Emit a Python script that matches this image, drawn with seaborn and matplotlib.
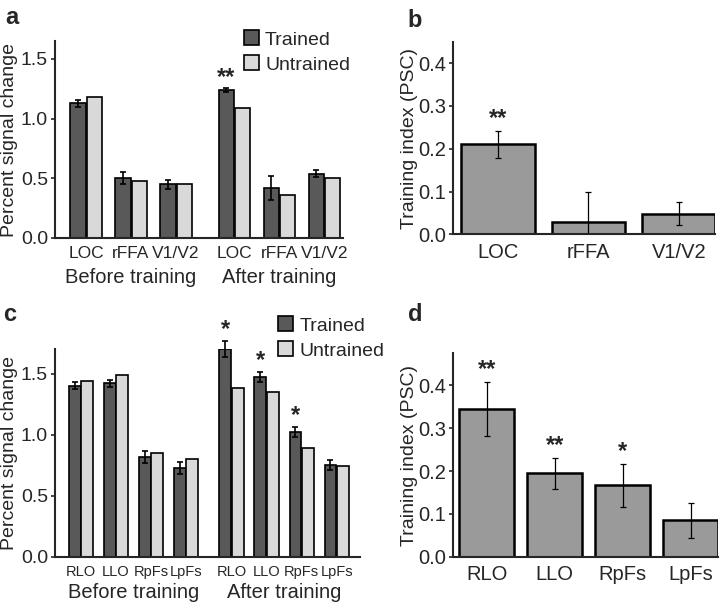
import matplotlib
matplotlib.use("Agg")
import matplotlib.pyplot as plt
import numpy as np
import pandas as pd
import seaborn as sns
from matplotlib.patches import Patch

sns.set_style("ticks")
plt.rcParams["font.family"] = ["Liberation Sans", "DejaVu Sans"]

# ---- data ----
# panel a
regions_a = ["LOC", "rFFA", "V1/V2"]
a_before_trained = [1.13, 0.50, 0.45]
a_before_trained_err = [0.03, 0.05, 0.04]
a_before_untrained = [1.18, 0.48, 0.45]
a_after_trained = [1.24, 0.42, 0.54]
a_after_trained_err = [0.02, 0.10, 0.03]
a_after_untrained = [1.09, 0.36, 0.50]
a_stars = ["", "", "", "**", "", ""]

# panel b
b_index = [0.21, 0.03, 0.048]
b_err = [0.032, 0.068, 0.027]
b_stars = ["**", "", ""]

# panel c
regions_c = ["RLO", "LLO", "RpFs", "LpFs"]
c_before_trained = [1.40, 1.42, 0.82, 0.73]
c_before_trained_err = [0.03, 0.03, 0.05, 0.05]
c_before_untrained = [1.44, 1.49, 0.85, 0.80]
c_after_trained = [1.70, 1.47, 1.02, 0.75]
c_after_trained_err = [0.065, 0.04, 0.04, 0.04]
c_after_untrained = [1.38, 1.35, 0.89, 0.74]
c_stars = ["", "", "", "", "*", "*", "*", ""]

# panel d
d_index = [0.345, 0.195, 0.167, 0.085]
d_err = [0.063, 0.036, 0.05, 0.04]
d_stars = ["**", "**", "*", ""]

DARK = "#595959"
LIGHT = "#d9d9d9"
MID = "#9a9a9a"
GROUP_GAP = 0.3


def grouped_frame(regions, bt, bu, at, au, bt_err, at_err):
    n = len(regions)
    pos = list(np.arange(n)) + list(np.arange(n) + n + GROUP_GAP)
    pos = [round(p, 3) for p in pos]
    rows = []
    for cond, vals in [("Trained", bt + at), ("Untrained", bu + au)]:
        for i, v in enumerate(vals):
            rows.append({"pos": pos[i], "value": v, "condition": cond})
    df = pd.DataFrame(rows)
    err = bt_err + at_err
    return df, pos, err


def draw_grouped(ax, regions, df, pos, err, stars, ylim, yticks, tick_fs,
                 legend_anchor, label_x, star_pad, group_y):
    sns.barplot(data=df, x="pos", y="value", hue="condition",
                native_scale=True, width=0.72, gap=0.06,
                palette=[DARK, LIGHT], edgecolor="black", linewidth=1.2,
                errorbar=None, legend=False, ax=ax)
    trained_bars = ax.containers[0]
    for bar, e, s in zip(trained_bars, err, stars):
        cx = bar.get_x() + bar.get_width() / 2
        h = bar.get_height()
        ax.errorbar(cx, h, yerr=e, color="black", capsize=2.5,
                    elinewidth=1.2, capthick=1.2, clip_on=False)
        if s:
            ax.text(cx, h + e + star_pad, s, ha="center", va="bottom",
                    fontsize=17, fontweight="bold")
    ax.set_ylim(*ylim)
    ax.set_yticks(yticks)
    ax.set_yticklabels([f"{t:.1f}" for t in yticks], fontsize=14)
    ax.set_xticks(pos)
    ax.set_xticklabels(regions + regions, fontsize=tick_fs)
    ax.set_xlabel("")
    ax.set_ylabel("Percent signal change", fontsize=14)
    ax.yaxis.set_label_coords(label_x, 0.5)
    n = len(regions)
    mid_before = np.mean(pos[:n])
    mid_after = np.mean(pos[n:])
    for m, lab in [(mid_before, "Before training"), (mid_after, "After training")]:
        ax.text(m, group_y, lab, transform=ax.get_xaxis_transform(),
                ha="center", va="top", fontsize=14.5)
    handles = [Patch(facecolor=DARK, edgecolor="black", linewidth=1.2),
               Patch(facecolor=LIGHT, edgecolor="black", linewidth=1.2)]
    ax.legend(handles, ["Trained", "Untrained"], loc="upper left",
              bbox_to_anchor=legend_anchor, frameon=False, fontsize=14,
              handlelength=0.8, handleheight=0.8, handletextpad=0.3,
              labelspacing=0.35, borderaxespad=0, borderpad=0)


def draw_index(ax, regions, vals, err, stars, ylim, yticks, label_x):
    df = pd.DataFrame({"region": regions, "value": vals})
    sns.barplot(data=df, x="region", y="value", color=MID, saturation=1,
                edgecolor="black", linewidth=1.8, width=0.81,
                errorbar=None, ax=ax)
    for bar, e, s in zip(ax.containers[0], err, stars):
        cx = bar.get_x() + bar.get_width() / 2
        h = bar.get_height()
        ax.errorbar(cx, h, yerr=e, color="black", capsize=2,
                    elinewidth=0.9, capthick=0.9)
        if s:
            ax.text(cx, h + e + 0.002, s, ha="center", va="bottom",
                    fontsize=17, fontweight="bold")
    ax.set_ylim(*ylim)
    ax.set_yticks(yticks)
    ax.set_yticklabels([f"{t:.1f}" for t in yticks], fontsize=14.5)
    ax.tick_params(axis="x", labelsize=14.5)
    ax.set_xlim(-0.5, len(regions) - 0.6)
    ax.set_xlabel("")
    ax.set_ylabel("Training index (PSC)", fontsize=14)
    ax.yaxis.set_label_coords(label_x, 0.5)


def style(ax):
    sns.despine(ax=ax)
    ax.spines["left"].set_linewidth(1.5)
    ax.spines["bottom"].set_linewidth(1.5)
    ax.tick_params(axis="y", length=3, width=1.2, pad=2)
    ax.tick_params(axis="x", length=0, pad=6)


fig = plt.figure(figsize=(7.2, 6.04), dpi=100)
ax_a = fig.add_axes([0.0764, 0.606, 0.400, 0.326])
ax_b = fig.add_axes([0.629, 0.612, 0.364, 0.319])
ax_c = fig.add_axes([0.0764, 0.078, 0.424, 0.344])
ax_d = fig.add_axes([0.629, 0.078, 0.368, 0.337])

df_a, pos_a, err_a = grouped_frame(regions_a, a_before_trained, a_before_untrained,
                                   a_after_trained, a_after_untrained,
                                   a_before_trained_err, a_after_trained_err)
draw_grouped(ax_a, regions_a, df_a, pos_a, err_a, a_stars, (0, 1.65),
             [0.0, 0.5, 1.0, 1.5], 12.5, (0.655, 1.054), -0.128, -0.01, -0.155)
ax_a.set_xlim(-0.69, 5.71)

df_c, pos_c, err_c = grouped_frame(regions_c, c_before_trained, c_before_untrained,
                                   c_after_trained, c_after_untrained,
                                   c_before_trained_err, c_after_trained_err)
draw_grouped(ax_c, regions_c, df_c, pos_c, err_c, c_stars, (0, 1.70),
             [0.0, 0.5, 1.0, 1.5], 10.5, (0.73, 1.157), -0.121, 0.0, -0.128)
ax_c.set_xlim(-0.74, 7.97)

draw_index(ax_b, regions_a, b_index, b_err, b_stars, (0, 0.45),
           [0.0, 0.1, 0.2, 0.3, 0.4], -0.132)
draw_index(ax_d, regions_c, d_index, d_err, d_stars, (0, 0.474),
           [0.0, 0.1, 0.2, 0.3, 0.4], -0.131)

for ax in [ax_a, ax_b, ax_c, ax_d]:
    style(ax)

for label, x, y in [("a", 0.007, 0.99), ("b", 0.566, 0.985),
                    ("c", 0.004, 0.498), ("d", 0.567, 0.498)]:
    fig.text(x, y, label, fontsize=17, fontweight="bold", va="top")

fig.savefig("out.png", dpi=100)
